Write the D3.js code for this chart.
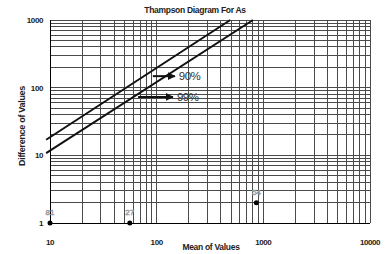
<!DOCTYPE html>
<html>
<head>
<meta charset="utf-8">
<script src="https://cdn.jsdelivr.net/npm/d3@7"></script>
<style>
  html, body { margin: 0; padding: 0; background: #fff; }
  text { font-family: "Liberation Sans", Arial, sans-serif; }
</style>
</head>
<body>
<script>
'use strict';

// data
const samples = ['81', '27', '54'];
const meanValues = [10, 56, 860];
const diffValues = [1, 1, 2];

// the two Thompson limit lines, each given by its two end points
const limitNames = ['90%', '99%'];
const limitX = [[9.2, 490], [9.2, 800]];
const limitY = [[17, 1000], [10.8, 1000]];

const xTicks = [10, 100, 1000, 10000];
const yTicks = [1, 10, 100, 1000];

const W = 385, H = 254;
const svg = d3.select('body').append('svg')
  .attr('width', W).attr('height', H)
  .attr('viewBox', `0 0 ${W} ${H}`);
svg.append('rect').attr('width', W).attr('height', H).attr('fill', '#fff');

const x = d3.scaleLog().domain([10, 10000]).range([50, 370]);
const y = d3.scaleLog().domain([1, 1000]).range([223, 20]);

// grid: every 1..9 x 10^k step in both directions
const grid = svg.append('g');
grid.selectAll('line.v')
  .data(x.ticks().filter(v => v > 10))
  .join('line')
  .attr('x1', d => x(d)).attr('x2', d => x(d))
  .attr('y1', y(1000)).attr('y2', y(1))
  .attr('stroke', '#4a4a4a').attr('stroke-width', 1)
  .attr('shape-rendering', 'crispEdges');
grid.selectAll('line.h')
  .data(y.ticks().filter(v => v > 1))
  .join('line')
  .attr('y1', d => y(d)).attr('y2', d => y(d))
  .attr('x1', x(10)).attr('x2', x(10000))
  .attr('stroke', '#4a4a4a').attr('stroke-width', 1)
  .attr('shape-rendering', 'crispEdges');

// axis lines
svg.append('line')
  .attr('x1', x(10)).attr('x2', x(10000)).attr('y1', y(1)).attr('y2', y(1))
  .attr('stroke', '#000').attr('shape-rendering', 'crispEdges');
svg.append('line')
  .attr('x1', x(10)).attr('x2', x(10)).attr('y1', y(1)).attr('y2', y(1000))
  .attr('stroke', '#000').attr('shape-rendering', 'crispEdges');

// tick labels
svg.append('g').selectAll('text')
  .data(xTicks)
  .join('text')
  .attr('x', d => x(d)).attr('y', 245)
  .attr('text-anchor', 'middle')
  .attr('font-size', 8).attr('font-weight', 'bold').attr('fill', '#222')
  .attr('letter-spacing', -0.4)
  .text(d => d);
svg.append('g').selectAll('text')
  .data(yTicks)
  .join('text')
  .attr('x', 43).attr('y', d => y(d) + 3)
  .attr('text-anchor', 'end')
  .attr('font-size', 8).attr('font-weight', 'bold').attr('fill', '#222')
  .attr('letter-spacing', -0.4)
  .text(d => d);

// titles
svg.append('text')
  .attr('x', 195).attr('y', 13)
  .attr('text-anchor', 'middle')
  .attr('font-size', 8.5).attr('font-weight', 'bold').attr('fill', '#222')
  .attr('letter-spacing', -0.3)
  .text('Thampson Diagram For As');
svg.append('text')
  .attr('x', 211).attr('y', 250)
  .attr('text-anchor', 'middle')
  .attr('font-size', 8.5).attr('font-weight', 'bold').attr('fill', '#222')
  .attr('letter-spacing', -0.3)
  .text('Mean of Values');
svg.append('text')
  .attr('transform', 'translate(25,126) rotate(-90)')
  .attr('text-anchor', 'middle')
  .attr('font-size', 9).attr('font-weight', 'bold').attr('fill', '#222')
  .attr('letter-spacing', -0.3)
  .text('Difference of Values');

// limit lines
const line = d3.line().x(d => x(d[0])).y(d => y(d[1]));
svg.append('g').selectAll('path')
  .data(limitNames.map((n, i) => limitX[i].map((v, j) => [v, limitY[i][j]])))
  .join('path')
  .attr('d', line)
  .attr('fill', 'none').attr('stroke', '#111').attr('stroke-width', 2);

// arrows with labels (data coords: from x, to x, at y)
const defs = svg.append('defs');
defs.append('marker')
  .attr('id', 'arr').attr('viewBox', '0 0 10 10')
  .attr('refX', 9).attr('refY', 5)
  .attr('markerWidth', 4).attr('markerHeight', 4)
  .attr('orient', 'auto')
  .append('path').attr('d', 'M 0 0 L 10 5 L 0 10 z').attr('fill', '#111');

const arrowFrom = [92, 67];
const arrowTo = [148, 142];
const arrowAt = [148, 73];
arrowFrom.forEach((a, i) => {
  const yy = y(arrowAt[i]);
  svg.append('line')
    .attr('x1', x(a)).attr('x2', x(arrowTo[i]))
    .attr('y1', yy).attr('y2', yy)
    .attr('stroke', '#111').attr('stroke-width', 2)
    .attr('marker-end', 'url(#arr)');
  svg.append('text')
    .attr('x', x(arrowTo[i]) + 4).attr('y', yy + 4)
    .attr('font-size', 11.5).attr('fill', '#333')
    .attr('letter-spacing', -0.5)
    .text(limitNames[i]);
});

// sample points
const pts = svg.append('g');
pts.selectAll('circle')
  .data(samples)
  .join('circle')
  .attr('cx', (d, i) => x(meanValues[i]))
  .attr('cy', (d, i) => y(diffValues[i]))
  .attr('r', 2.5).attr('fill', '#000');
pts.selectAll('text')
  .data(samples)
  .join('text')
  .attr('x', (d, i) => x(meanValues[i]))
  .attr('y', (d, i) => y(diffValues[i]) - 8)
  .attr('text-anchor', 'middle')
  .attr('font-size', 8).attr('fill', '#fff')
  .attr('stroke', '#999').attr('stroke-width', 0.6)
  .text(d => d);
</script>
</body>
</html>
